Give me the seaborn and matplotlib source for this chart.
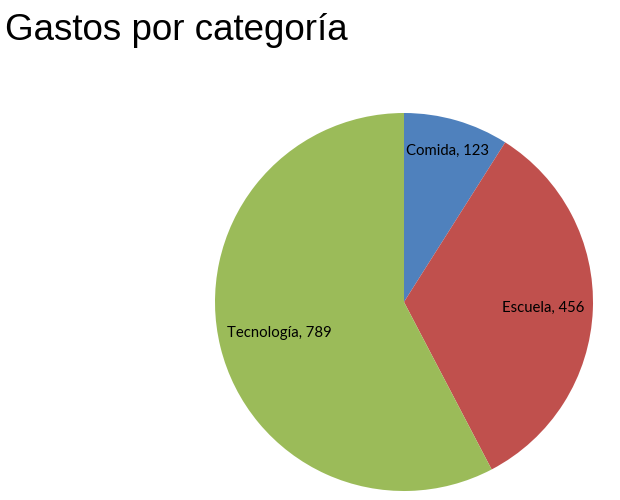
import matplotlib
matplotlib.use("Agg")
import matplotlib.pyplot as plt
import seaborn as sns
import numpy as np

categories = ["Comida", "Escuela", "Tecnología"]
values = [123, 456, 789]
title = "Gastos por categoría"

sns.set_theme(style="white")
plt.rcParams['font.family'] = ['DejaVu Sans']
colors = sns.color_palette(["#4F81BD", "#C0504D", "#9BBB59"])

fig = plt.figure(figsize=(6.2, 5.0), dpi=100)
cx, cy, r = 404, 302, 189
ax = fig.add_axes([(cx - r) / 620, (500 - cy - r) / 500, 2 * r / 620, 2 * r / 500])

labels = [f"{c}, {v}" for c, v in zip(categories, values)]
wedges, texts = ax.pie(values, labels=labels, colors=colors, startangle=90,
                       counterclock=False, labeldistance=0.75,
                       wedgeprops=dict(linewidth=0),
                       textprops=dict(fontsize=10.7, family=['Lato', 'DejaVu Sans'], color='black'))
label_r = [0.83, 0.735, 0.68]
for w, t, lr in zip(wedges, texts, label_r):
    ang = np.deg2rad((w.theta1 + w.theta2) / 2)
    t.set_position((lr * np.cos(ang), lr * np.sin(ang)))
    t.set_ha('center')
    t.set_va('center')
ax.set_xlim(-1, 1)
ax.set_ylim(-1, 1)
ax.set_aspect('equal')

fig.text(5 / 620, 1 - 31 / 500, title, fontsize=26.5, va='center', ha='left',
         family=['Liberation Sans', 'DejaVu Sans'], color='black')

fig.savefig("out.png", dpi=100)
